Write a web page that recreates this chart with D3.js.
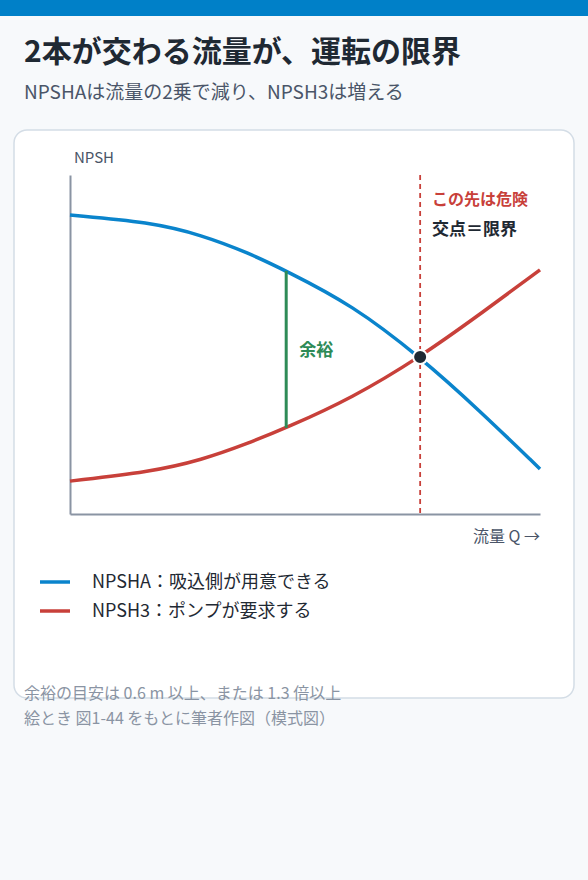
<!DOCTYPE html><html><head><meta charset="utf-8"><script src="https://cdn.jsdelivr.net/npm/d3@7"></script>
<style>body{margin:0;background:#f7f9fb;font-family:"Noto Sans CJK JP","Noto Sans",sans-serif}</style></head><body>
<svg id="c" width="588" height="880"></svg>
<script>
const flow=[0,17,28,38,46,60,74.5,87,100];
const npsha=[8.82,8.61,8.23,7.70,7.17,6.17,4.63,3.07,1.33];
const npsh3=[0.97,1.24,1.59,2.09,2.54,3.42,4.63,5.87,7.20];
const marginQ=46, limitQ=74.5, limitV=4.63;
const svg=d3.select("#c");
svg.append("rect").attr("width",588).attr("height",16).attr("fill","#0080c8");
svg.append("text").attr("x",24).attr("y",62).attr("font-size",30).attr("font-weight",700).attr("fill","#1f2933").text("2本が交わる流量が、運転の限界");
svg.append("text").attr("x",24).attr("y",99).attr("font-size",19).attr("fill","#4a5568").text("NPSHAは流量の2乗で減り、NPSH3は増える");
svg.append("rect").attr("x",14).attr("y",130).attr("width",560).attr("height",568).attr("rx",13).attr("fill","#fff").attr("stroke","#d4dde6").attr("stroke-width",1.5);
const x=d3.scaleLinear().domain([0,100]).range([70,540]);
const y=d3.scaleLinear().domain([0,10]).range([514,175]);
const g=svg.append("g");
g.append("g").attr("transform","translate(70,0)").call(d3.axisLeft(y).ticks(0).tickSize(0)).call(a=>a.select(".domain").attr("stroke","#8a94a3").attr("stroke-width",2));
g.append("g").attr("transform","translate(0,514)").call(d3.axisBottom(x).ticks(0).tickSize(0)).call(a=>a.select(".domain").attr("stroke","#8a94a3").attr("stroke-width",2));
svg.append("text").attr("x",74).attr("y",163).attr("font-size",15).attr("fill","#4a5568").text("NPSH");
svg.append("text").attr("x",540).attr("y",542).attr("text-anchor","end").attr("font-size",16).attr("fill","#4a5568").text("流量 Q →");
svg.append("line").attr("x1",x(limitQ)).attr("x2",x(limitQ)).attr("y1",y(10)).attr("y2",y(0)).attr("stroke","#c8403a").attr("stroke-width",1.8).attr("stroke-dasharray","5,4");
const line=d3.line().x((d,i)=>x(flow[i])).y(d=>y(d)).curve(d3.curveBasis);
svg.append("path").attr("d",line(npsha)).attr("fill","none").attr("stroke","#0a84cc").attr("stroke-width",3.5);
svg.append("path").attr("d",line(npsh3)).attr("fill","none").attr("stroke","#c8403a").attr("stroke-width",3.5);
const mi=flow.indexOf(marginQ);
svg.append("line").attr("x1",x(marginQ)).attr("x2",x(marginQ)).attr("y1",y(npsha[mi])).attr("y2",y(npsh3[mi])).attr("stroke","#2e8b57").attr("stroke-width",3);
svg.append("text").attr("x",x(marginQ)+13).attr("y",356).attr("font-size",17).attr("font-weight",700).attr("fill","#2e8b57").text("余裕");
svg.append("circle").attr("cx",x(limitQ)).attr("cy",y(limitV)).attr("r",7).attr("fill","#1f2933").attr("stroke","#fff").attr("stroke-width",2);
svg.append("text").attr("x",432).attr("y",205).attr("font-size",16).attr("font-weight",700).attr("fill","#c8403a").text("この先は危険");
svg.append("text").attr("x",432).attr("y",235).attr("font-size",17).attr("font-weight",700).attr("fill","#1f2933").text("交点＝限界");
[["#0a84cc","NPSHA：吸込側が用意できる",582],["#c8403a","NPSH3：ポンプが要求する",611]].forEach(([c,t,yy])=>{
svg.append("line").attr("x1",40).attr("x2",70).attr("y1",yy).attr("y2",yy).attr("stroke",c).attr("stroke-width",3.5);
svg.append("text").attr("x",92).attr("y",yy+6).attr("font-size",18).attr("fill","#1f2933").text(t);});
svg.append("text").attr("x",24).attr("y",699).attr("font-size",16).attr("fill","#8a94a3").text("余裕の目安は 0.6 m 以上、または 1.3 倍以上");
svg.append("text").attr("x",24).attr("y",724).attr("font-size",16).attr("fill","#8a94a3").text("絵とき 図1-44 をもとに筆者作図（模式図）");
</script></body></html>
